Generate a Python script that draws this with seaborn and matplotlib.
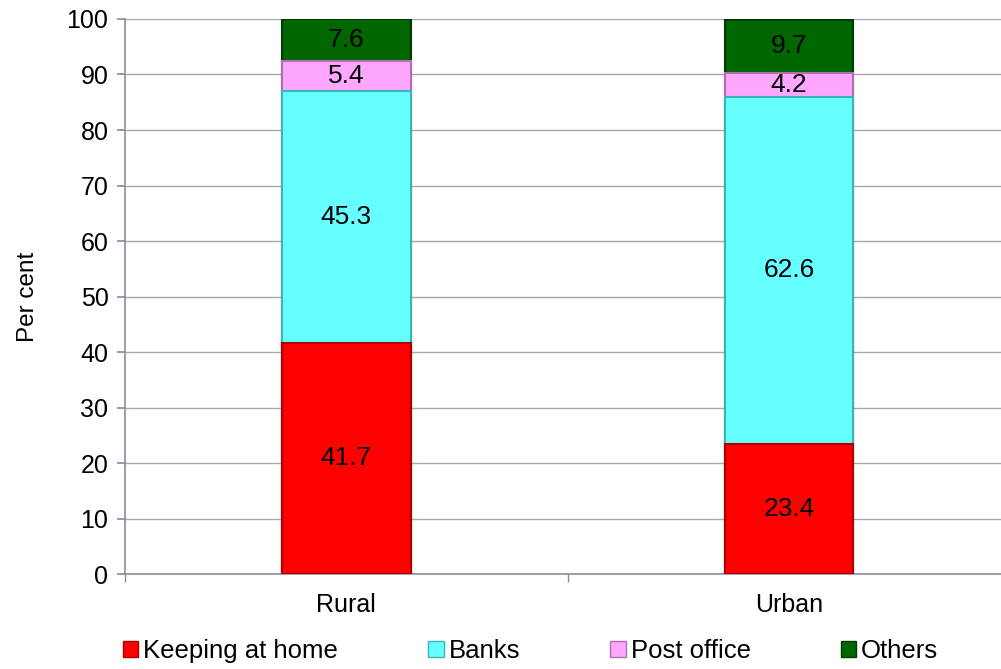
import matplotlib
matplotlib.use("Agg")
import matplotlib.pyplot as plt
import seaborn as sns
import pandas as pd
import numpy as np
from matplotlib.patches import Patch

categories = ["Rural", "Urban"]
series_names = ["Keeping at home", "Banks", "Post office", "Others"]
keeping = [41.7, 23.4]
banks = [45.3, 62.6]
post = [5.4, 4.2]
others = [7.6, 9.7]
yticks = [0, 10, 20, 30, 40, 50, 60, 70, 80, 90, 100]

colors = ["#FF0000", "#66FFFF", "#FFA6FF", "#006600"]
edgecolors = ["#B00000", "#3CB4B4", "#B070B0", "#003A00"]

sns.set_theme(style="white")
plt.rcParams['font.family'] = ['Liberation Sans', 'DejaVu Sans']
plt.rcParams['text.color'] = 'black'
plt.rcParams['xtick.labelcolor'] = 'black'
plt.rcParams['ytick.labelcolor'] = 'black'
plt.rcParams['axes.labelcolor'] = 'black'

FS = 17.5
fig = plt.figure(figsize=(10.01, 6.69), dpi=100)
ax = fig.add_axes([0.125, 0.142, 0.884, 0.8296])

series = [keeping, banks, post, others]
cum = np.cumsum(np.array(series), axis=0)

# draw from top cumulative down so lower segments overlay
for i in range(len(series) - 1, -1, -1):
    d = pd.DataFrame({"cat": categories, "val": cum[i]})
    sns.barplot(data=d, x="cat", y="val", color=colors[i], width=0.29,
                edgecolor=edgecolors[i], linewidth=1.5, saturation=1, ax=ax, zorder=3)

for j, c in enumerate(categories):
    bottom = 0
    for i, s in enumerate(series):
        ax.text(j, bottom + s[j] / 2, f"{s[j]:.1f}", ha="center", va="center",
                fontsize=19, color="black", zorder=5)
        bottom += s[j]

ax.set_ylim(0, 100)
ax.set_xlim(-0.5, 1.5)
ax.set_yticks(yticks)
ax.set_yticklabels([str(v) for v in yticks], fontsize=18)
ax.yaxis.grid(True, color="#A8A8B4", linewidth=1)
ax.set_axisbelow(True)
ax.set_xlabel("")
ax.set_ylabel("Per cent", fontsize=17.5, labelpad=20)
ax.set_xticks([0, 1])
ax.set_xticklabels(categories, fontsize=18)
ax.tick_params(axis="x", length=0, pad=14)
ax.set_xticks([-0.5, 0.5, 1.5], minor=True)
ax.tick_params(axis="x", which="minor", length=6, color="#8C8CA0", direction="out", bottom=True)
ax.tick_params(axis="y", length=6, color="#8C8CA0", direction="out", left=True, pad=6)

for sp in ["top", "right"]:
    ax.spines[sp].set_visible(False)
for sp in ["left", "bottom"]:
    ax.spines[sp].set_color("#8C8CA0")
    ax.spines[sp].set_linewidth(1.2)

handles = [Patch(facecolor=colors[i], edgecolor=edgecolors[i], label=series_names[i]) for i in range(4)]
fig.legend(handles=handles, loc="center", bbox_to_anchor=(0.53, 0.027), ncol=4, frameon=False,
           fontsize=18.5, handlelength=0.6, handleheight=0.6, handletextpad=0.2, columnspacing=3.5)

fig.savefig("out.png", dpi=100)
